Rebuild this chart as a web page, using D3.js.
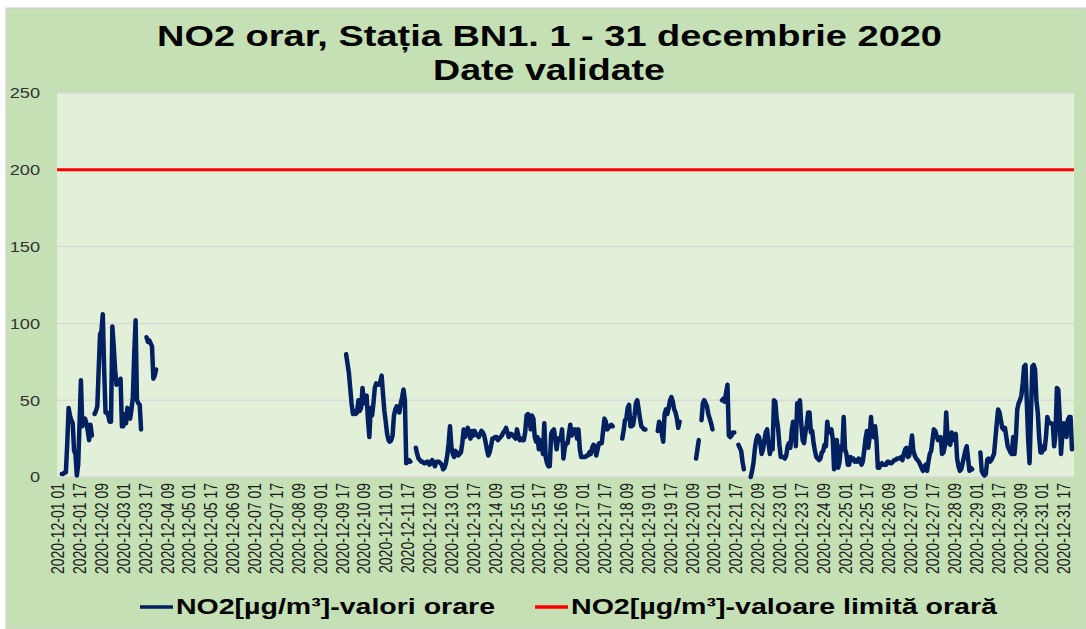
<!DOCTYPE html>
<html>
<head>
<meta charset="utf-8">
<script src="https://cdn.jsdelivr.net/npm/d3@7"></script>
<style>
  body { margin: 0; background: #fff; }
  svg { display: block; }
  text { font-family: "Liberation Sans", Arial, sans-serif; }
</style>
</head>
<body>
<svg id="chart" width="1086" height="629"></svg>
<script>
// hourly NO2 values, one row per day (hours 01..24), null = no validated value
var no2Orar = [
  null,null,null,2,2,3,3,22,45,40,37,35,17,15,1,8,35,63,33,37,38,35,30,24,          // 01
  34,27,null,41,43,46,70,93,95,106,70,42,42,40,36,36,98,85,70,60,61,61,64,33,        // 02
  33,41,35,45,40,38,44,52,80,102,50,48,47,31,null,null,null,91,88,89,87,85,64,66,    // 03
  70,null,null,null,null,null,null,null,null,null,null,null,null,null,null,null,null,null,null,null,null,null,null,null, // 04
  null,null,null,null,null,null,null,null,null,null,null,null,null,null,null,null,null,null,null,null,null,null,null,null, // 05
  null,null,null,null,null,null,null,null,null,null,null,null,null,null,null,null,null,null,null,null,null,null,null,null, // 06
  null,null,null,null,null,null,null,null,null,null,null,null,null,null,null,null,null,null,null,null,null,null,null,null, // 07
  null,null,null,null,null,null,null,null,null,null,null,null,null,null,null,null,null,null,null,null,null,null,null,null, // 08
  null,null,null,null,null,null,null,null,null,null,null,null,null,null,null,null,null,null,null,80,74,68,58,48,   // 09
  41,43,41,42,50,43,45,58,48,50,53,37,26,45,40,48,58,61,60,60,62,66,54,43,           // 10
  36,28,24,23,24,27,40,44,46,43,42,48,52,57,50,9,10,11,10,null,null,null,19,15,      // 11
  12,11,10,10,9,9,10,10,8,9,11,9,7,10,10,10,9,8,5,6,9,14,22,33,                     // 12
  20,15,13,17,16,14,15,16,22,31,26,30,32,28,25,30,27,30,28,27,26,28,30,29,           // 13
  27,23,18,14,16,20,25,25,26,26,24,25,26,27,29,30,32,29,26,28,28,27,26,25,           // 14
  31,27,24,25,24,24,29,40,41,40,31,40,38,26,23,26,18,24,22,15,35,13,9,7,             // 15
  7,28,30,31,25,18,25,24,25,31,12,19,22,22,28,34,27,29,31,31,25,31,18,13,            // 16
  13,13,13,14,14,16,15,19,21,20,14,18,22,22,22,30,38,36,31,32,33,34,33,null,         // 17
  null,null,null,null,null,25,30,37,38,45,47,33,33,34,40,48,50,44,38,33,32,31,31,null, // 18
  null,null,null,null,null,null,null,30,36,34,28,23,41,44,41,45,50,52,49,44,42,38,32,36, // 19
  null,null,null,null,null,null,null,null,null,null,null,12,18,24,null,37,48,50,48,46,41,38,35,31, // 20
  null,null,null,null,null,null,50,51,49,55,60,27,26,27,29,29,null,null,21,19,17,10,5,null, // 21
  null,null,null,0,4,9,18,24,27,26,22,15,18,24,29,31,22,15,19,18,50,49,38,32,        // 22
  21,13,13,13,12,14,20,22,19,30,36,34,20,48,42,50,34,24,22,29,34,42,42,29,           // 23
  30,22,17,13,12,11,12,16,17,21,20,36,29,30,31,25,5,22,24,6,10,20,18,39,             // 24
  18,15,8,8,13,12,12,10,11,10,12,11,8,10,17,25,30,19,26,39,27,26,33,24,              // 25
  6,6,8,9,8,8,8,10,10,9,9,10,11,11,12,12,12,13,11,15,18,19,13,14,                    // 26
  20,27,17,14,12,11,10,8,6,4,7,8,4,10,15,17,24,31,30,27,24,25,26,15,                 // 27
  16,20,42,26,22,21,29,24,27,28,12,7,4,5,9,13,17,20,12,4,6,5,null,null,              // 28
  null,null,null,16,4,2,1,2,11,12,10,11,13,15,25,35,44,42,37,32,31,32,26,20,         // 29
  18,16,15,26,15,26,44,48,50,53,61,72,73,48,24,9,40,72,73,70,50,42,26,16,            // 30
  16,20,18,26,39,36,35,35,34,20,28,58,57,40,15,28,35,30,26,37,39,39,18,null          // 31
];
var valoareLimita = 200;
var yTicks = [0, 50, 100, 150, 200, 250];
var labelStep = 16;

// categories "2020-12-dd hh"
var categories = [];
for (var d = 1; d <= 31; d++) {
  for (var h = 1; h <= 24; h++) {
    categories.push("2020-12-" + (d < 10 ? "0" + d : d) + " " + (h < 10 ? "0" + h : h));
  }
}
var data = categories.map(function(c, i) { return { cat: c, v: no2Orar[i] }; });

var plot = { left: 57, right: 1074, top: 93, bottom: 477 };
var stretch = 1.3;

var svg = d3.select("#chart");

// chart area
svg.append("rect").attr("x", 6).attr("y", 8).attr("width", 1080).attr("height", 621)
  .attr("fill", "#c5e0b4").attr("stroke", "#d0d0d0").attr("stroke-width", 1);

svg.append("rect").attr("x", plot.left).attr("y", plot.top)
  .attr("width", plot.right - plot.left).attr("height", plot.bottom - plot.top)
  .attr("fill", "#e2f0d9");

var x = d3.scaleBand().domain(categories).range([plot.left, plot.right]);
var y = d3.scaleLinear().domain([0, 250]).range([plot.bottom, plot.top]);
var cx = function(c) { return x(c) + x.bandwidth() / 2; };

// gridlines
svg.append("g").selectAll("line").data(yTicks).enter().append("line")
  .attr("x1", plot.left).attr("x2", plot.right)
  .attr("y1", function(t) { return y(t); }).attr("y2", function(t) { return y(t); })
  .attr("stroke", "#d9d9d9").attr("stroke-width", 1.5);

// y axis
var yAxis = svg.append("g").attr("transform", "translate(" + plot.left + ",0)")
  .call(d3.axisLeft(y).tickValues(yTicks).tickSize(0));
yAxis.select(".domain").remove();
yAxis.selectAll("text")
  .attr("x", 0).attr("dy", "0.35em")
  .attr("transform", "translate(-17,0) scale(" + stretch + ",1)")
  .attr("font-size", 14).attr("fill", "#333")
  .attr("font-family", '"Liberation Sans", Arial, sans-serif');

// x axis
var xAxis = svg.append("g").attr("transform", "translate(0," + plot.bottom + ")")
  .call(d3.axisBottom(x)
    .tickValues(categories.filter(function(c, i) { return i % labelStep === 0; }))
    .tickSize(0));
xAxis.select(".domain").remove();
xAxis.selectAll("text")
  .attr("x", 0).attr("y", 0).attr("dy", "0.36em")
  .attr("text-anchor", "end")
  .attr("transform", "translate(0,6) rotate(-90) scale(1," + stretch + ")")
  .attr("font-size", 14).attr("fill", "#1a1a1a")
  .attr("font-family", '"Liberation Sans", Arial, sans-serif');

// limit line
svg.append("line")
  .attr("x1", plot.left).attr("x2", plot.right)
  .attr("y1", y(valoareLimita)).attr("y2", y(valoareLimita))
  .attr("stroke", "#ff0000").attr("stroke-width", 3);

// hourly values
var line = d3.line()
  .defined(function(d) { return d.v !== null; })
  .x(function(d) { return cx(d.cat); })
  .y(function(d) { return y(d.v); });

svg.append("path").datum(data)
  .attr("d", line)
  .attr("fill", "none")
  .attr("stroke", "#002060")
  .attr("stroke-width", 4.5)
  .attr("stroke-linejoin", "round")
  .attr("stroke-linecap", "round");

// title
svg.append("text").attr("x", 157).attr("y", 46)
  .attr("textLength", 785).attr("lengthAdjust", "spacingAndGlyphs")
  .attr("font-size", 29).attr("font-weight", "bold")
  .text("NO2 orar, Stația BN1. 1 - 31 decembrie 2020");
svg.append("text").attr("x", 433).attr("y", 80)
  .attr("textLength", 232).attr("lengthAdjust", "spacingAndGlyphs")
  .attr("font-size", 29).attr("font-weight", "bold")
  .text("Date validate");

// legend
var legend = [
  { name: "NO2[µg/m³]-valori orare", color: "#002060", x: 140, w: 319 },
  { name: "NO2[µg/m³]-valoare limită orară", color: "#ff0000", x: 535, w: 426 }
];
var lg = svg.append("g").selectAll("g").data(legend).enter().append("g");
lg.append("line")
  .attr("x1", function(d) { return d.x; }).attr("x2", function(d) { return d.x + 33; })
  .attr("y1", 607).attr("y2", 607)
  .attr("stroke", function(d) { return d.color; }).attr("stroke-width", 3.5);
lg.append("text")
  .attr("x", function(d) { return d.x + 36; }).attr("y", 614)
  .attr("textLength", function(d) { return d.w; }).attr("lengthAdjust", "spacingAndGlyphs")
  .attr("font-size", 22).attr("font-weight", "bold")
  .text(function(d) { return d.name; });
</script>
</body>
</html>
